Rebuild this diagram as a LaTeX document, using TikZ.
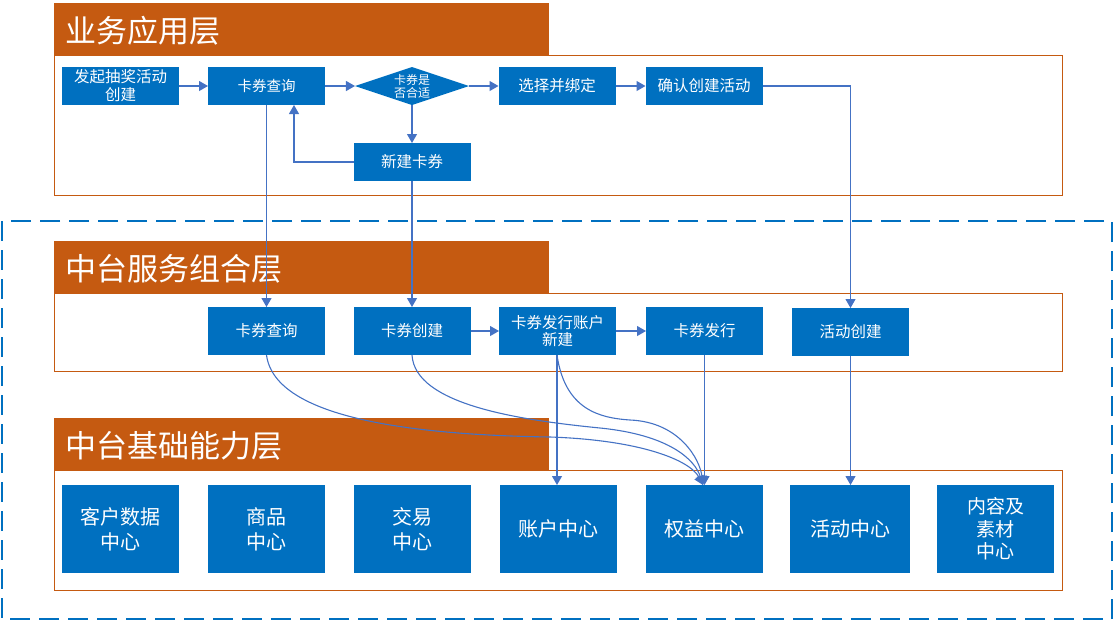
\documentclass[tikz,border=0pt]{standalone}
\usepackage{fontspec}
\setmainfont{Noto Sans CJK SC}
\usetikzlibrary{arrows.meta,shapes.geometric,calc}
\definecolor{layerorange}{HTML}{C55A11}
\definecolor{boxblue}{HTML}{0070C0}
\definecolor{arrowblue}{HTML}{4472C4}
\begin{document}
\begin{tikzpicture}[x=1pt,y=-1pt,
  bx/.style={fill=boxblue, text=white, inner sep=0pt, outer sep=0pt, align=center, minimum width=117pt},
  smallbx/.style={bx, minimum height=38pt, font=\fontsize{15.5}{18}\selectfont},
  midbx/.style={bx, minimum height=48pt, font=\fontsize{15.5}{18}\selectfont},
  bigbx/.style={bx, minimum height=88pt, font=\fontsize{20}{25}\selectfont},
  titlebar/.style={fill=layerorange, draw=none},
  titletext/.style={text=white, anchor=west, inner sep=0pt, font=\fontsize{31}{34}\selectfont},
  frame/.style={draw=layerorange, line width=1pt},
  conn/.style={draw=arrowblue, line width=1.1pt, -{Triangle[length=9pt,width=10pt]}},
]
\useasboundingbox (0,0) rectangle (1114,622);

% dashed outer frame
\draw[boxblue, line width=2.6pt, dash pattern=on 20pt off 9pt] (2,221) rectangle (1112,619);

% layer 1
\draw[frame] (54,55) rectangle (1062,195);
\fill[titlebar] (54,3) rectangle (549,55);
\node[titletext] (t1) at (65,31) {业务应用层};

% layer 2
\draw[frame] (54,293) rectangle (1062,371);
\fill[titlebar] (54,241) rectangle (549,293);
\node[titletext] (t2) at (65,269) {中台服务组合层};

% layer 3
\draw[frame] (54,470) rectangle (1062,590);
\fill[titlebar] (54,418) rectangle (549,470);
\node[titletext] (t3) at (65,446) {中台基础能力层};

% layer 1 nodes
\node[smallbx] (a1) at (120.5,86) {发起抽奖活动\\创建};
\node[smallbx, font=\fontsize{14.5}{18}\selectfont] (a2) at (266.5,86) {卡券查询};
\node[fill=boxblue, text=white, diamond, aspect=3, minimum width=114pt, minimum height=38pt, inner sep=0pt, outer sep=0pt, align=center, font=\fontsize{12}{13}\selectfont] (a3) at (412,86) {卡券是\\否合适};
\node[smallbx] (a4) at (557,86) {选择并绑定};
\node[smallbx] (a5) at (704,86) {确认创建活动};
\node[smallbx] (a6) at (412,162) {新建卡券};

% layer 2 nodes
\node[midbx] (b1) at (266.5,331) {卡券查询};
\node[midbx] (b2) at (412,331) {卡券创建};
\node[midbx, font=\fontsize{15.5}{17.5}\selectfont] (b3) at (557.5,331) {卡券发行账户\\新建};
\node[midbx] (b4) at (704.5,331) {卡券发行};
\node[midbx] (b5) at (850.5,332) {活动创建};

% layer 3 nodes
\node[bigbx] (c1) at (120.5,529) {客户数据\\中心};
\node[bigbx] (c2) at (266.5,529) {商品\\中心};
\node[bigbx] (c3) at (412,529) {交易\\中心};
\node[bigbx] (c4) at (558,529) {账户中心};
\node[bigbx] (c5) at (704.5,529) {权益中心};
\node[bigbx, minimum width=120pt] (c6) at (850,529) {活动中心};
\node[bigbx, font=\fontsize{19}{22.5}\selectfont] (c7) at (995.5,529) {内容及\\素材\\中心};

% connectors layer 1
\draw[conn] (a1) -- (a2);
\draw[conn] (a2) -- (a3);
\draw[conn] (a3) -- (a4);
\draw[conn] (a4) -- (a5);
\draw[conn] (a3) -- (a6);
\coordinate (loopend) at ([xshift=27.5pt]a2.south);
\draw[conn] (a6.west) -| (loopend);

% down to layer 2
\draw[conn] (a2) -- (b1);
\draw[conn] (a6) -- (b2);
\draw[conn] (a5.east) -| (b5.north);
\draw[conn] (b2) -- (b3);
\draw[conn] (b3) -- (b4);

% down to layer 3
\coordinate (b3s) at (557,355);
\coordinate (c4n) at (557,485);
\coordinate (c5n) at (703,485);
\draw[conn] (b3s) -- (c4n);
\draw[conn] (b4.south) -- (b4.south |- c5.north);
\draw[conn] (b5.south) -- (b5.south |- c6.north);
\draw[conn] (b1.south) .. controls (275,420) and (420,435) .. (550,437) .. controls (640,440) and (690,460) .. (c5n);
\draw[conn] (b2.south) .. controls (415,405) and (520,420) .. (600,428) .. controls (670,435) and (695,460) .. (c5n);
\draw[conn] (b3s) .. controls (565,410) and (600,418) .. (630,420) .. controls (680,422) and (700,460) .. (c5n);
\end{tikzpicture}
\end{document}
